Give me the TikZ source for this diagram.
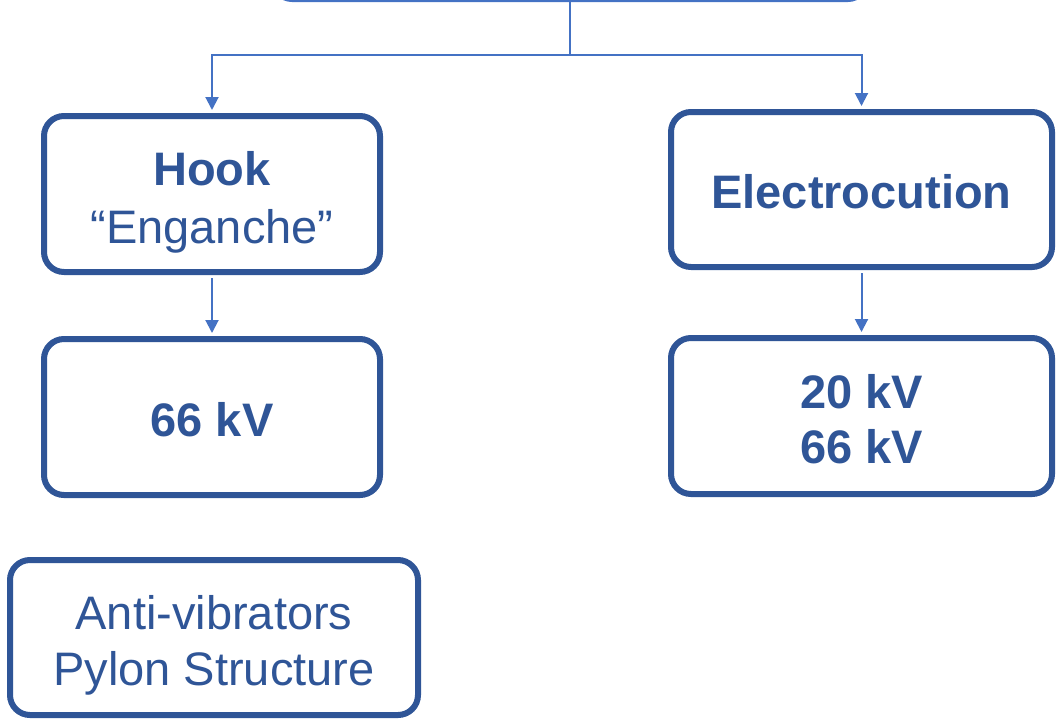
\documentclass[tikz,border=0pt]{standalone}
\usepackage{fontspec}
\setmainfont{Liberation Sans}
\usetikzlibrary{arrows.meta}
\definecolor{boxblue}{RGB}{47,85,151}
\definecolor{linkblue}{RGB}{68,114,196}
\tikzset{
  blockbox/.style={draw=boxblue, line width=6pt, rounded corners=20pt, fill=white,
    text=boxblue, align=center, inner sep=0pt, text depth=0pt,
    font=\fontsize{47}{56}\selectfont},
  topbox/.style={draw=linkblue, line width=2pt, rounded corners=20pt,
    minimum width=596pt, minimum height=80pt, inner sep=0pt},
  link/.style={color=linkblue, line width=2pt}
}
\begin{document}
\begin{tikzpicture}[x=1pt, y=-1pt, >={Triangle[length=13pt,width=13pt]}]
   \useasboundingbox (0,0) rectangle (1059,721);

   \node (top) [topbox] at (570,-39) {};
   \coordinate (split) at (570,55);

   \node (hook) [blockbox, font=\fontsize{47}{58}\selectfont, text height=98pt,
     minimum width=336pt, minimum height=156pt] at (212,194)
     {\bfseries Hook\\``Enganche''};
   \node (hookkv) [blockbox, text height=38pt,
     minimum width=336pt, minimum height=156pt] at (212,417)
     {\bfseries 66 kV};
   \node (elec) [blockbox, text height=38pt,
     minimum width=381pt, minimum height=155pt] at (861.5,189.5)
     {\bfseries Electrocution};
   \node (eleckv) [blockbox, font=\fontsize{47}{55}\selectfont, text height=94pt,
     minimum width=381pt, minimum height=156pt] at (861.5,416)
     {\bfseries 20 kV\\\bfseries 66 kV};
   \node (anti) [blockbox, text height=95pt,
     minimum width=408pt, minimum height=155pt] at (214,637.5)
     {Anti-vibrators\\Pylon Structure};

   \draw[link] (top.south) -- (split);
   \draw[link, ->, shorten >=3pt] (split) -| (hook.north);
   \draw[link, ->, shorten >=3pt] (split) -| (elec.north);
   \path[link, ->, shorten <=3pt, shorten >=3pt]
     (hook) edge (hookkv)
     (elec) edge (eleckv);
\end{tikzpicture}
\end{document}
